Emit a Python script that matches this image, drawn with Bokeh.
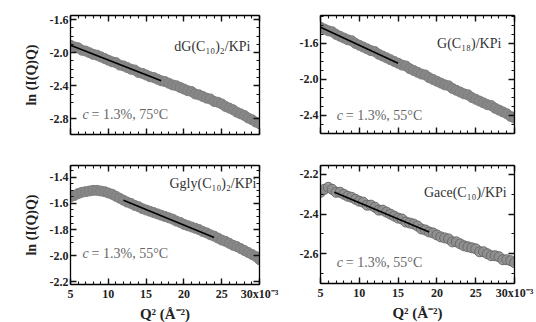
from bokeh.plotting import figure
from bokeh.layouts import column, row
from bokeh.models import (FixedTicker, Label, Range1d, PrintfTickFormatter, LinearAxis,
                          CustomJSTickFormatter)
from bokeh.embed import file_html
from bokeh.resources import INLINE

# ---------------- data ----------------
q2 = [5.0, 5.5, 6.0, 6.5, 7.0, 7.5, 8.0, 8.5, 9.0, 9.5,
      10.0, 10.5, 11.0, 11.5, 12.0, 12.5, 13.0, 13.5, 14.0, 14.5,
      15.0, 15.5, 16.0, 16.5, 17.0, 17.5, 18.0, 18.5, 19.0, 19.5,
      20.0, 20.5, 21.0, 21.5, 22.0, 22.5, 23.0, 23.5, 24.0, 24.5,
      25.0, 25.5, 26.0, 26.5, 27.0, 27.5, 28.0, 28.5, 29.0, 29.5, 30.0]

dG_C10_2 = [-1.91, -1.93, -1.94, -1.97, -1.98, -2.00, -2.02, -2.03, -2.05, -2.07,
            -2.09, -2.11, -2.12, -2.15, -2.16, -2.18, -2.20, -2.21, -2.24, -2.25,
            -2.27, -2.29, -2.30, -2.32, -2.34, -2.35, -2.37, -2.39, -2.40, -2.42,
            -2.44, -2.46, -2.47, -2.50, -2.51, -2.53, -2.55, -2.56, -2.59, -2.60,
            -2.62, -2.65, -2.67, -2.69, -2.72, -2.74, -2.76, -2.79, -2.81, -2.84, -2.86]

G_C18 = [-1.42, -1.44, -1.46, -1.47, -1.50, -1.52, -1.54, -1.56, -1.57, -1.60,
         -1.62, -1.64, -1.66, -1.68, -1.69, -1.72, -1.74, -1.76, -1.78, -1.80,
         -1.82, -1.84, -1.85, -1.88, -1.90, -1.92, -1.94, -1.95, -1.98, -2.00,
         -2.02, -2.04, -2.06, -2.07, -2.10, -2.12, -2.14, -2.16, -2.17, -2.20,
         -2.22, -2.24, -2.26, -2.28, -2.29, -2.32, -2.34, -2.36, -2.38, -2.41, -2.43]

Ggly_C10_2 = [-1.55, -1.54, -1.525, -1.515, -1.51, -1.505, -1.50, -1.50, -1.505, -1.51,
              -1.52, -1.53, -1.545, -1.56, -1.575, -1.59, -1.60, -1.615, -1.625, -1.64,
              -1.65, -1.66, -1.67, -1.68, -1.69, -1.70, -1.71, -1.72, -1.735, -1.745,
              -1.76, -1.77, -1.78, -1.79, -1.80, -1.815, -1.825, -1.84, -1.85, -1.865,
              -1.88, -1.89, -1.905, -1.92, -1.93, -1.945, -1.96, -1.975, -1.99, -2.005, -2.03]

Gace_C10 = [-2.29, -2.275, -2.265, -2.275, -2.29, -2.29, -2.30, -2.31, -2.315, -2.325,
            -2.335, -2.34, -2.355, -2.355, -2.365, -2.38, -2.38, -2.39, -2.40, -2.41,
            -2.42, -2.425, -2.44, -2.445, -2.45, -2.46, -2.475, -2.48, -2.49, -2.495,
            -2.505, -2.515, -2.52, -2.525, -2.54, -2.54, -2.55, -2.56, -2.565, -2.57,
            -2.575, -2.59, -2.59, -2.60, -2.61, -2.61, -2.615, -2.63, -2.63, -2.635, -2.645]

fit_x = {"dG": [5.0, 17.0], "G": [5.0, 15.0], "Ggly": [12.0, 24.0], "Gace": [6.8, 19.0]}
fit_y = {"dG": [-1.91, -2.34], "G": [-1.42, -1.82], "Ggly": [-1.575, -1.86], "Gace": [-2.29, -2.49]}

x_major = [5, 10, 15, 20, 25, 30]
x_minor = list(range(5, 31))
x_labels = {30: "30x10\u207b\u00b3"}

SERIF = "Liberation Serif"


def style_axis(ax, ticker):
    ax.ticker = ticker
    ax.axis_line_color = "black"
    ax.axis_line_width = 1.3
    ax.major_tick_in = 6
    ax.major_tick_out = 0
    ax.minor_tick_in = 3
    ax.minor_tick_out = 0
    ax.major_tick_line_color = "#111111"
    ax.minor_tick_line_color = "#111111"
    ax.major_tick_line_width = 1.4
    ax.minor_tick_line_width = 1.1
    ax.major_label_text_font = SERIF
    ax.major_label_text_font_style = "bold"
    ax.major_label_text_font_size = "12px"
    ax.major_label_text_color = "#222222"
    ax.major_label_standoff = 2
    ax.axis_label_text_font = SERIF
    ax.axis_label_text_font_style = "bold"
    ax.axis_label_text_font_size = "14px"
    ax.axis_label_text_color = "#222222"


def blank_axis(ticker):
    ax = LinearAxis()
    style_axis(ax, ticker)
    ax.formatter = CustomJSTickFormatter(code="return '';")
    ax.major_label_standoff = 0
    return ax


def panel(y, key, yr, ymaj, ystep, fw, fh, borders, name, cond, name_pos, cond_pos,
          xlabels, ylabel, open_markers=False):
    l, r, t, b = borders
    p = figure(frame_width=fw, frame_height=fh, x_range=Range1d(5, 30), y_range=Range1d(*yr),
               output_backend="svg", toolbar_location=None,
               min_border_left=l, min_border_right=r, min_border_top=t, min_border_bottom=b)
    p.grid.visible = False
    p.outline_line_color = None
    p.background_fill_color = "white"
    p.border_fill_color = "white"

    ymin = [round(ymaj[0] + k * ystep, 3) for k in range(-10, 40)]
    ymin = [v for v in ymin if yr[0] <= v <= yr[1]]

    style_axis(p.xaxis[0], FixedTicker(ticks=x_major, minor_ticks=x_minor))
    style_axis(p.yaxis[0], FixedTicker(ticks=ymaj, minor_ticks=ymin))
    p.yaxis[0].formatter = PrintfTickFormatter(format="%.1f")
    if xlabels:
        p.xaxis[0].major_label_overrides = x_labels
        p.xaxis[0].axis_label = "Q\u00b2 (\u00c5\u207b\u00b2)"
        p.xaxis[0].axis_label_standoff = 2
        p.xaxis[0].axis_label_text_font_size = "15px"
    else:
        p.xaxis[0].formatter = CustomJSTickFormatter(code="return '';")
        p.xaxis[0].major_label_standoff = 0
    if ylabel:
        p.yaxis[0].axis_label = "ln (I(Q)Q)"
        p.yaxis[0].axis_label_standoff = 8

    p.add_layout(blank_axis(FixedTicker(ticks=x_major, minor_ticks=x_minor)), "above")
    p.add_layout(blank_axis(FixedTicker(ticks=ymaj, minor_ticks=ymin)), "right")

    if open_markers:
        p.scatter(q2, y, size=10, marker="circle", fill_color="#8e8e8e", fill_alpha=0.85,
                  line_color="#6a6a6a", line_width=1.0)
    else:
        p.scatter(q2, y, size=10, marker="circle", fill_color="#878787",
                  line_color="#7e7e7e", line_width=1.0)
    p.line(fit_x[key], fit_y[key], line_color="black", line_width=1.6)

    p.add_layout(Label(x=name_pos[0], y=name_pos[1], text=name, text_align="right",
                       text_baseline="middle", text_font=SERIF, text_font_size="14px",
                       text_color="#333333"))
    p.add_layout(Label(x=cond_pos[0], y=cond_pos[1], text="c", text_align="left",
                       text_baseline="middle", text_font=SERIF, text_font_style="italic",
                       text_font_size="14px", text_color="#666666"))
    p.add_layout(Label(x=cond_pos[0], y=cond_pos[1], x_offset=9, text="= 1.3%, " + cond,
                       text_align="left", text_baseline="middle", text_font=SERIF,
                       text_font_size="14px", text_color="#666666"))
    return p


p1 = panel(dG_C10_2, "dG", (-2.99, -1.55), [-1.6, -2.0, -2.4, -2.8], 0.1, 189, 119,
           (70, 20, 13, 10), "dG(C\u2081\u2080)\u2082/KPi", "75\u00b0C", (28.8, -1.93), (6.6, -2.75),
           False, True)
p2 = panel(G_C18, "G", (-2.60, -1.29), [-1.6, -2.0, -2.4], 0.1, 194, 118,
           (41, 20, 15, 9), "G(C\u2081\u2088)/KPi", "55\u00b0C", (28.3, -1.60), (7.1, -2.40),
           False, False)
p3 = panel(Ggly_C10_2, "Ggly", (-2.22, -1.31), [-1.4, -1.6, -1.8, -2.0, -2.2], 0.05, 189, 119,
           (70, 20, 21, 36), "Ggly(C\u2081\u2080)\u2082/KPi", "55\u00b0C", (29.6, -1.45), (6.6, -1.98),
           True, True)
p4 = panel(Gace_C10, "Gace", (-2.75, -2.155), [-2.2, -2.4, -2.6], 0.1, 194, 118,
           (41, 20, 23, 35), "Gace(C\u2081\u2080)/KPi", "55\u00b0C", (29.0, -2.29), (7.1, -2.645),
           True, False, open_markers=True)

layout = column(row(p1, p2), row(p3, p4))
open("out.html", "w").write(file_html(layout, INLINE))
